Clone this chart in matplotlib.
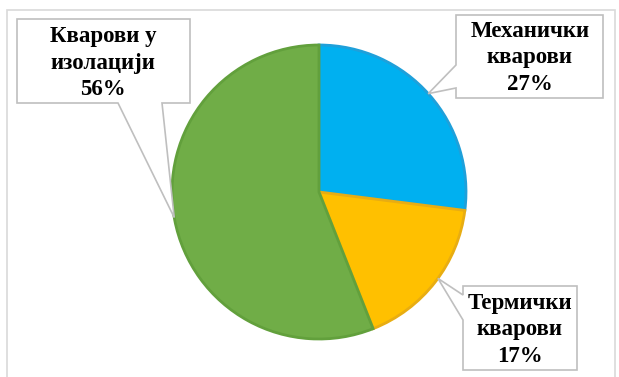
import numpy as np
import matplotlib.pyplot as plt
from matplotlib.patches import Polygon, Rectangle

labels = ["Механички\nкварови", "Термички\nкварови", "Кварови у\nизолацији"]
shares = [27, 17, 56]
colors = ["#00B0F0", "#FFC000", "#70AD47"]
edges = ["#1FA0DA", "#E8AD12", "#62A03C"]

W, H = 619, 377
fig = plt.figure(figsize=(W / 100, H / 100), dpi=100)
ax = fig.add_axes([0, 0, 1, 1])

# outer frame
ax.add_patch(Rectangle((7, -5), 608, H - 5, fill=False,
                       ec="#D9D9D9", lw=1.2))

cx, cy, r = 319, H - 192, 147
wedges, _ = ax.pie(shares, colors=colors, startangle=90, counterclock=False,
                   center=(cx, cy), radius=r, frame=True,
                   wedgeprops=dict(linewidth=2))
for w, e in zip(wedges, edges):
    w.set_edgecolor(e)
ax.set_xlim(0, W)
ax.set_ylim(0, H)
ax.set_aspect("equal")
ax.axis("off")

# callout boxes (pixel coords, y from top): box, tail base points, text centre
boxes = [
    dict(box=(456, 15, 603, 98), base=[(456, 65), (456, 88)], side="left", txt=(530, 58)),
    dict(box=(463, 286, 577, 370), base=[(463, 295), (463, 320)], side="left", txt=(520, 330)),
    dict(box=(17, 19, 190, 103), base=[(162, 103), (118, 103)], side="bottom", txt=(103, 63)),
]
tip_angles = [42, -36, 190]

for i, b in enumerate(boxes):
    ang = np.deg2rad(tip_angles[i])
    tip = (cx + r * np.cos(ang), cy + r * np.sin(ang))
    x0, y0, x1, y1 = b["box"]
    (ax_, ay_), (bx_, by_) = b["base"]
    if b["side"] == "left":
        outline = [(x0, y0), (x1, y0), (x1, y1), (x0, y1), (bx_, by_)]
        rest = [(ax_, ay_)]
    else:
        outline = [(x0, y0), (x1, y0), (x1, y1), (ax_, ay_)]
        rest = [(bx_, by_), (x0, y1)]
    pts = [(p[0], H - p[1]) for p in outline] + [tip] + [(p[0], H - p[1]) for p in rest]
    ax.add_patch(Polygon(pts, closed=True, fc="white", ec="#BFBFBF", lw=1.2, zorder=5))
    ax.text(b["txt"][0], H - b["txt"][1], f"{labels[i]}\n{shares[i]}%",
            ha="center", va="center", fontsize=16.5, fontweight="bold",
            family="Liberation Serif", linespacing=1.33, zorder=6)

fig.savefig("out.png", dpi=100)
